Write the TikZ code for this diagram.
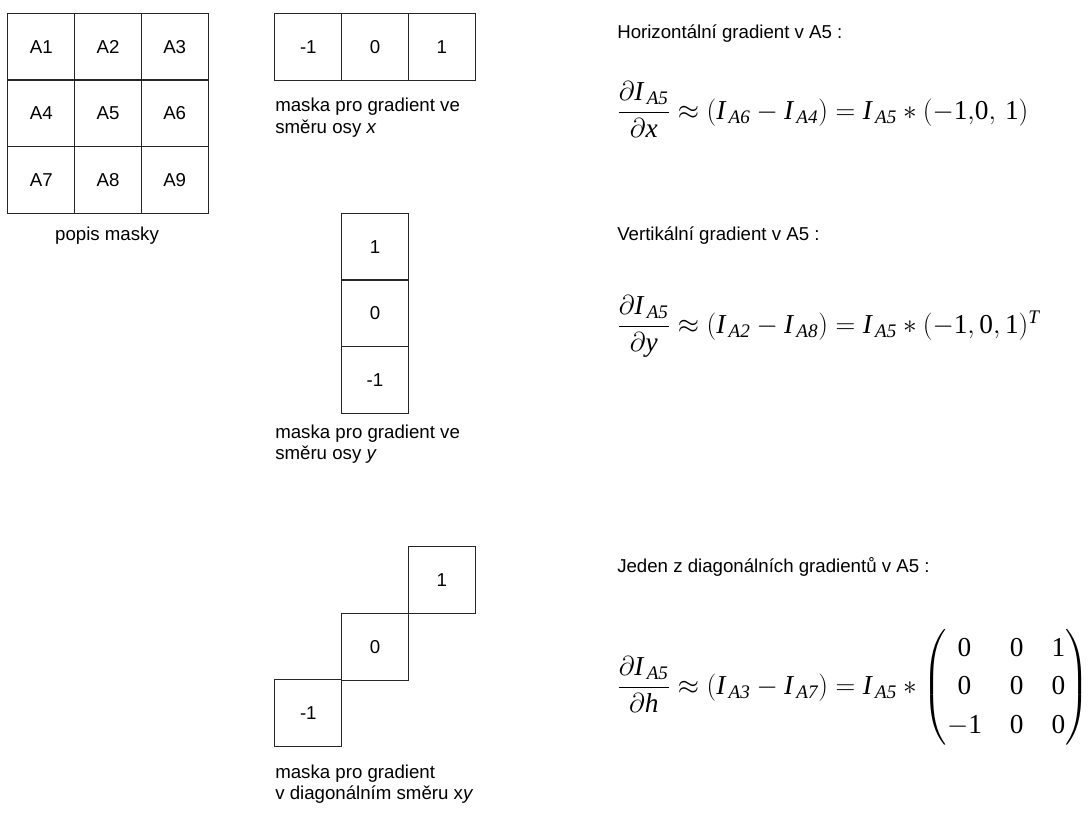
\RequirePackage{fix-cm}
\documentclass[tikz,border=0pt]{standalone}
\usepackage{amsmath}
\usepackage{fontspec}
\setmainfont{Liberation Serif}
\setsansfont{Liberation Sans}
\newcommand\Iv[1]{\textit{I}_{\,\textit{#1}}}
\begin{document}
\begin{tikzpicture}[x=0.75pt,y=-0.75pt,
  cell/.style={draw=black!85, line width=0.75pt, minimum width=50pt, minimum height=50pt, inner sep=0pt,
    font=\sffamily\fontsize{14}{16}\selectfont},
  lbl/.style={anchor=base west, inner sep=0pt, font=\sffamily\fontsize{14}{16}\selectfont},
  eq/.style={anchor=base west, inner sep=0pt, font=\rmfamily\fontsize{20.5}{24}\selectfont}]
\useasboundingbox (0,0) rectangle (1092,814);
% 3x3 description grid
\node[cell] (a1) at (41.3,46.7) {A1};
\node[cell] (a2) at (108,46.7) {A2};
\node[cell] (a3) at (174.7,46.7) {A3};
\node[cell] (a4) at (41.3,113.3) {A4};
\node[cell] (a5) at (108,113.3) {A5};
\node[cell] (a6) at (174.7,113.3) {A6};
\node[cell] (a7) at (41.3,180) {A7};
\node[cell] (a8) at (108,180) {A8};
\node[cell] (a9) at (174.7,180) {A9};
\node[lbl, anchor=base] (popis) at (107,240) {popis masky};
% x mask
\node[cell] (x1) at (308.3,46.7) {-1};
\node[cell] (x2) at (375,46.7) {0};
\node[cell] (x3) at (441.7,46.7) {1};
\node[lbl] (xl1) at (275,111.7) {maska pro gradient ve};
\node[lbl] (xl2) at (275,133.3) {směru osy \textit{x}};
% y mask
\node[cell] (y1) at (375,246.7) {1};
\node[cell] (y2) at (375,313.3) {0};
\node[cell] (y3) at (375,380) {-1};
\node[lbl] (yl1) at (275,438) {maska pro gradient ve};
\node[lbl] (yl2) at (275,459) {směru osy \textit{y}};
% diagonal mask
\node[cell] (d1) at (441.7,580) {1};
\node[cell] (d2) at (375,646.7) {0};
\node[cell] (d3) at (308.3,713.3) {-1};
\node[lbl] (dl1) at (275,778) {maska pro gradient};
\node[lbl] (dl2) at (275,799) {v diagonálním směru x\textit{y}};
% right-hand texts
\node[lbl] (th) at (617,38.3) {Horizontální gradient v A5 :};
\node[eq] (eqh) at (617,119) {$\dfrac{\partial \Iv{A5}}{\partial \textit{x}}\approx(\Iv{A6}-\Iv{A4})=\Iv{A5}\ast(-\text{1}{,}\text{0},\,\text{1})$};
\node[lbl] (tv) at (617,240) {Vertikální gradient v A5 :};
\node[eq] (eqv) at (617,333) {$\dfrac{\partial \Iv{A5}}{\partial \textit{y}}\approx(\Iv{A2}-\Iv{A8})=\Iv{A5}\ast(-\text{1},\text{0},\text{1})^{\textit{T}}$};
\node[lbl] (td) at (617,572.7) {Jeden z diagonálních gradientů v A5 :};
\node[eq] (eqd) at (617,694) {$\dfrac{\partial \Iv{A5}}{\partial \textit{h}}\approx(\Iv{A3}-\Iv{A7})=\Iv{A5}\ast
  {\renewcommand\arraystretch{1.2}\setlength\arraycolsep{10.5pt}\left(\begin{matrix}\text{0}&\text{0}&\text{1}\\ \text{0}&\text{0}&\text{0}\\ -\text{1}&\text{0}&\text{0}\end{matrix}\right)}$};
\end{tikzpicture}
\end{document}
